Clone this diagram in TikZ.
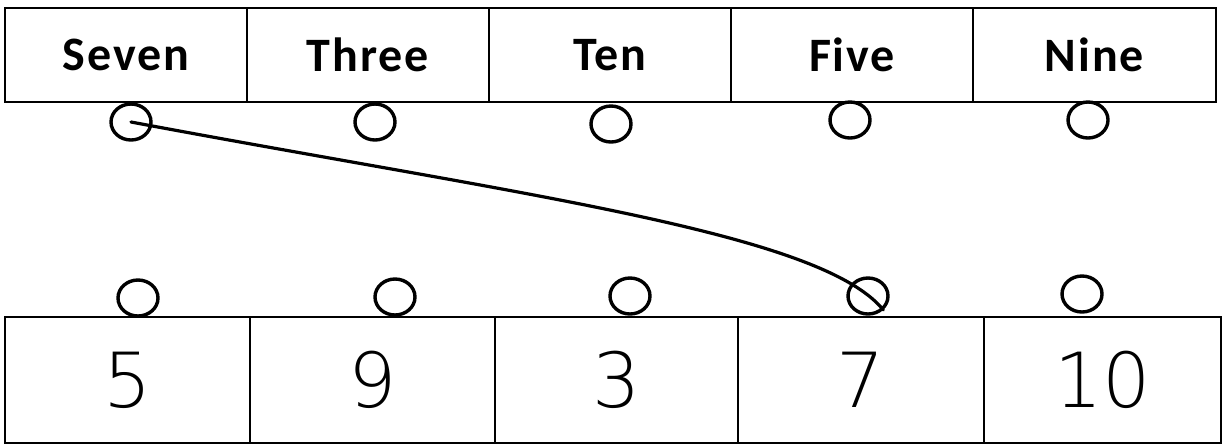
\documentclass[tikz,border=0pt]{standalone}
\usepackage{fontspec}
\usetikzlibrary{shapes.geometric}
\newfontfamily\lblfont[LetterSpace=4]{Carlito}
\newfontfamily\handfont{DejaVu Sans ExtraLight}
\begin{document}
\begin{tikzpicture}[x=1pt,y=-1pt,
  cell/.style={draw, line width=1.6pt, rectangle, inner sep=0pt, font=\lblfont\bfseries\fontsize{48}{48}\selectfont},
  numcell/.style={draw, line width=1.6pt, rectangle, inner sep=0pt, font=\handfont\fontsize{76}{76}\selectfont},
  dot/.style={draw, line width=3.4pt, ellipse, minimum width=40pt, minimum height=36pt, inner sep=0pt},
  link/.style={line width=3.2pt, line cap=round}]
\useasboundingbox (0,0) rectangle (1225,445);
% top row
\node[cell, minimum width=242pt, minimum height=94pt] (w1) at (126,55) {Seven};
\node[cell, minimum width=242pt, minimum height=94pt] (w2) at (368,55) {Three};
\node[cell, minimum width=242pt, minimum height=94pt] (w3) at (610,55) {Ten};
\node[cell, minimum width=242pt, minimum height=94pt] (w4) at (852,55) {Five};
\node[cell, minimum width=243pt, minimum height=94pt] (w5) at (1094.5,55) {Nine};
% bottom row
\node[numcell, minimum width=245pt, minimum height=126pt] (n1) at (127.5,380) {5};
\node[numcell, minimum width=245pt, minimum height=126pt] (n2) at (372.5,380) {9};
\node[numcell, minimum width=243pt, minimum height=126pt] (n3) at (616.5,380) {3};
\node[numcell, minimum width=246pt, minimum height=126pt] (n4) at (861,380) {7};
\node[numcell, minimum width=237pt, minimum height=126pt] (n5) at (1102.5,380) {10};
% top circles
\node[dot] (t1) at (131,122) {};
\node[dot] (t2) at (375,122) {};
\node[dot] (t3) at (611,124) {};
\node[dot] (t4) at (850,120) {};
\node[dot] (t5) at (1088,120) {};
% bottom circles
\node[dot] (b1) at (138,298) {};
\node[dot] (b2) at (395,297) {};
\node[dot] (b3) at (630,296) {};
\node[dot] (b4) at (868,296) {};
\node[dot] (b5) at (1082,294) {};
% connector
\draw[link] (t1.center) .. controls (520,195) and (820,232) .. (b4.south east);
\end{tikzpicture}
\end{document}
